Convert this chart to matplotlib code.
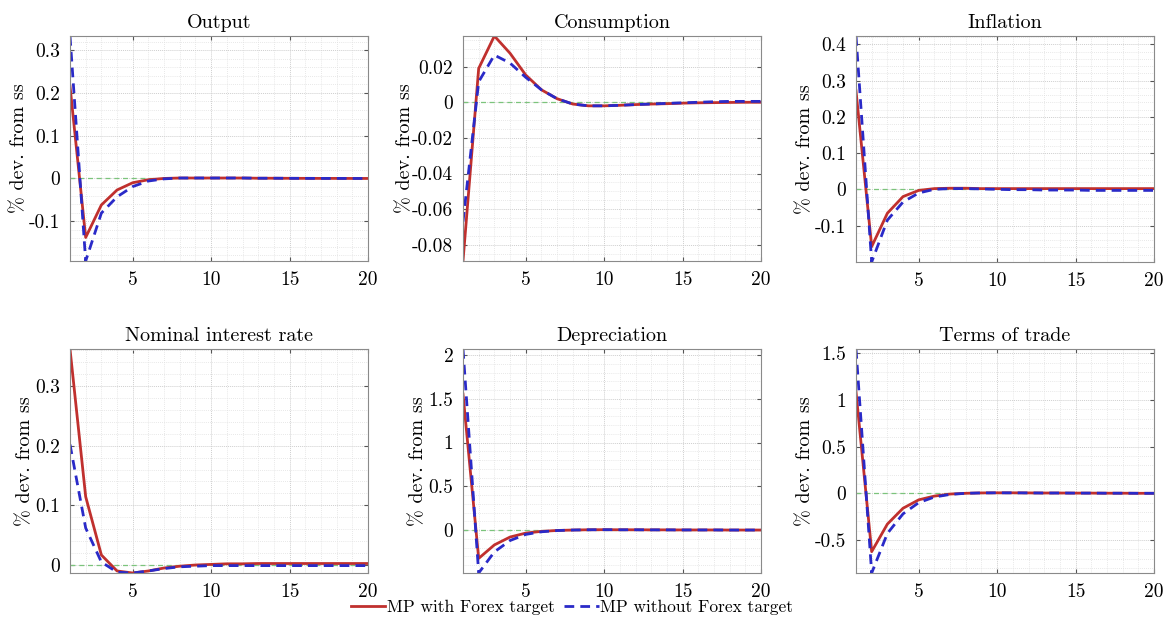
import numpy as np
import matplotlib
matplotlib.use("Agg")
import matplotlib.pyplot as plt
from matplotlib.ticker import MultipleLocator

plt.rcParams['font.family'] = 'serif'
plt.rcParams['font.serif'] = ['cmr10']
plt.rcParams['mathtext.fontset'] = 'cm'
plt.rcParams['axes.formatter.use_mathtext'] = True

periods = np.arange(1, 21)

titles = ["Output", "Consumption", "Inflation",
          "Nominal interest rate", "Depreciation", "Terms of trade"]

# MP with Forex target
with_fx = {
    "Output": [0.216, -0.138, -0.062, -0.027, -0.010, -0.003, 0.000, 0.001, 0.001, 0.001,
               0.001, 0.001, 0.0005, 0.0005, 0.0003, 0.0002, 0.0001, 0.0001, 0.0, 0.0],
    "Consumption": [-0.0891, 0.019, 0.0372, 0.0275, 0.0153, 0.007, 0.002, -0.001, -0.002, -0.002,
                    -0.0017, -0.0013, -0.001, -0.0008, -0.0005, -0.0003, -0.0002, -0.0001, 0.0, 0.0],
    "Inflation": [0.272, -0.158, -0.066, -0.020, -0.003, 0.002, 0.003, 0.003, 0.002, 0.002,
                  0.002, 0.002, 0.002, 0.002, 0.002, 0.002, 0.002, 0.002, 0.002, 0.002],
    "Nominal interest rate": [0.362, 0.1145, 0.0168, -0.010, -0.0134, -0.010, -0.005, -0.002, 0.000, 0.001,
                              0.002, 0.002, 0.0025, 0.0025, 0.0025, 0.0025, 0.0025, 0.0025, 0.0025, 0.0025],
    "Depreciation": [1.554, -0.324, -0.17, -0.08, -0.035, -0.015, -0.005, 0.0, 0.003, 0.004,
                     0.003, 0.003, 0.002, 0.002, 0.001, 0.001, 0.001, 0.0, 0.0, 0.0],
    "Terms of trade": [1.089, -0.625, -0.33, -0.16, -0.07, -0.03, -0.008, 0.0, 0.004, 0.005,
                       0.005, 0.004, 0.003, 0.003, 0.002, 0.002, 0.001, 0.001, 0.0, 0.0],
}

# MP without Forex target
without_fx = {
    "Output": [0.333, -0.193, -0.081, -0.043, -0.019, -0.006, -0.001, 0.001, 0.001, 0.001,
               0.001, 0.001, 0.0005, 0.0005, 0.0003, 0.0002, 0.0001, 0.0001, 0.0, 0.0],
    "Consumption": [-0.067, 0.0115, 0.0265, 0.022, 0.014, 0.007, 0.002, -0.001, -0.002, -0.002,
                    -0.0017, -0.0013, -0.001, -0.0006, -0.0003, 0.0, 0.0003, 0.0005, 0.0005, 0.0005],
    "Inflation": [0.423, -0.2005, -0.085, -0.035, -0.010, 0.000, 0.002, 0.002, 0.001, 0.0,
                  -0.001, -0.001, -0.002, -0.002, -0.002, -0.003, -0.003, -0.003, -0.003, -0.003],
    "Nominal interest rate": [0.202, 0.062, 0.005, -0.012, -0.0134, -0.010, -0.006, -0.003, -0.002, -0.001,
                              -0.001, -0.001, -0.001, -0.001, -0.001, -0.001, -0.001, -0.001, -0.001, -0.001],
    "Depreciation": [2.069, -0.491, -0.25, -0.12, -0.05, -0.02, -0.006, 0.0, 0.003, 0.004,
                     0.003, 0.003, 0.002, 0.002, 0.001, 0.001, 0.001, 0.0, 0.0, 0.0],
    "Terms of trade": [1.546, -0.854, -0.43, -0.22, -0.10, -0.04, -0.012, 0.0, 0.004, 0.005,
                       0.005, 0.004, 0.003, 0.003, 0.002, 0.002, 0.001, 0.001, 0.0, 0.0],
}

yticks = {
    "Output": [-0.1, 0, 0.1, 0.2, 0.3],
    "Consumption": [-0.08, -0.06, -0.04, -0.02, 0, 0.02],
    "Inflation": [-0.1, 0, 0.1, 0.2, 0.3, 0.4],
    "Nominal interest rate": [0, 0.1, 0.2, 0.3],
    "Depreciation": [0, 0.5, 1, 1.5, 2],
    "Terms of trade": [-0.5, 0, 0.5, 1, 1.5],
}
yminor = {
    "Output": 0.02, "Consumption": 0.005, "Inflation": 0.02,
    "Nominal interest rate": 0.02, "Depreciation": 0.1, "Terms of trade": 0.1,
}

red = '#c0302e'
blue = '#2a2ac8'

W, H = 1165, 617
fig = plt.figure(figsize=(W / 100, H / 100), dpi=100)

# axes boxes in pixels: left, top, right, bottom, ylabel centre x
boxes = [(70, 36, 368, 261, 19), (463, 36, 761, 261, 405), (856, 36, 1154, 262, 805),
         (70, 349, 368, 573, 25), (463, 349, 761, 573, 418), (856, 349, 1154, 573, 805)]

for name, (l, t, r, b, lx) in zip(titles, boxes):
    ax = fig.add_axes([l / W, 1 - b / H, (r - l) / W, (b - t) / H])
    ya = np.array(with_fx[name])
    yb = np.array(without_fx[name])
    ax.plot(periods, np.zeros_like(periods), '--', color='#7cc47c', lw=0.9, dashes=(4, 3))
    l1, = ax.plot(periods, ya, '-', color=red, lw=2)
    l2, = ax.plot(periods, yb, '--', color=blue, lw=2, dashes=(3.5, 2.2))
    lo = min(ya.min(), yb.min())
    hi = max(ya.max(), yb.max())
    ax.set_xlim(1, 20)
    ax.set_ylim(lo, hi)
    ax.set_xticks([5, 10, 15, 20])
    ax.set_xticklabels(['5', '10', '15', '20'])
    ax.xaxis.set_minor_locator(MultipleLocator(1))
    ax.set_yticks(yticks[name])
    ax.set_yticklabels(['%g' % v for v in yticks[name]])
    ax.yaxis.set_minor_locator(MultipleLocator(yminor[name]))
    ax.grid(True, which='major', color='#cfcfcf', lw=0.7, ls=(0, (1, 1)))
    ax.grid(True, which='minor', color='#e0e0e0', lw=0.6, ls=(0, (1, 1.5)))
    ax.tick_params(which='both', direction='in', top=True, right=True,
                   labelsize=14, color='#555555', pad=7)
    ax.tick_params(which='minor', length=0)
    ax.tick_params(which='major', length=3)
    for sp in ax.spines.values():
        sp.set_color('#8a8a8a')
        sp.set_linewidth(0.8)
    ax.set_axisbelow(True)
    ax.set_title(name, fontsize=14.5, pad=6)
    ax.set_ylabel('% dev. from ss', fontsize=14.5, va='center')
    ax.yaxis.set_label_coords((lx - l) / (r - l), 0.5)

fig.legend([l1, l2], ['MP with Forex target', 'MP without Forex target'],
           loc='center', bbox_to_anchor=(572 / W, 1 - 607 / H), ncol=2,
           frameon=False, fontsize=12.5, handlelength=2.0, columnspacing=0.5,
           handletextpad=0.1, borderpad=0)

fig.savefig('out.png', dpi=100)
